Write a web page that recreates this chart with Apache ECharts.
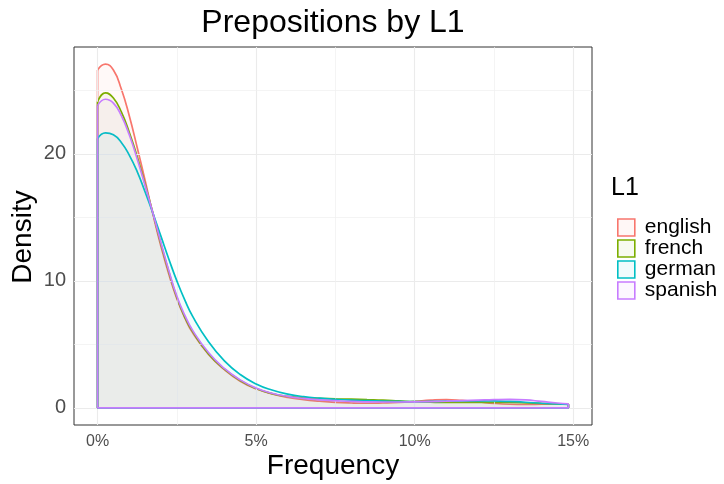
<!DOCTYPE html>
<html>
<head>
<meta charset="utf-8">
<script src="https://cdn.jsdelivr.net/npm/echarts@6/dist/echarts.min.js"></script>
<style>html,body{margin:0;padding:0;background:#fff}#c{width:724px;height:484px}</style>
</head>
<body>
<div id="c"></div>
<script>
// Frequency grid (percent) and estimated density values per L1 group
const freq = [0,0.25,0.5,0.75,1,1.25,1.5,1.75,2,2.25,2.5,2.75,3,3.5,4,4.5,5,5.5,6,6.5,7,7.5,8,8.5,9,9.5,10,10.5,11,11.5,12,12.5,13,13.5,14,14.5,14.85];
const english = [26.6,27.06,26.6,25.1,23.0,20.5,17.9,15.2,12.7,10.5,8.6,7.1,5.9,4.2,3.0,2.1,1.5,1.1,0.82,0.64,0.52,0.43,0.38,0.36,0.38,0.42,0.5,0.6,0.65,0.58,0.47,0.35,0.28,0.26,0.28,0.3,0.3];
const french  = [24.1,24.8,24.4,23.3,21.7,19.8,17.6,15.3,12.9,10.7,8.7,7.15,6.0,4.25,3.05,2.15,1.52,1.12,0.9,0.8,0.74,0.71,0.68,0.64,0.6,0.54,0.48,0.44,0.42,0.42,0.43,0.43,0.42,0.39,0.35,0.31,0.28];
const german  = [21.2,21.65,21.5,20.9,19.9,18.6,17.0,15.3,13.5,11.7,10.0,8.5,7.2,5.2,3.7,2.62,1.88,1.4,1.08,0.88,0.76,0.67,0.6,0.56,0.53,0.5,0.48,0.5,0.52,0.54,0.55,0.54,0.5,0.44,0.36,0.3,0.26];
const spanish = [23.8,24.3,24.0,23.0,21.5,19.6,17.5,15.3,13.0,10.8,8.8,7.3,6.1,4.35,3.1,2.2,1.56,1.15,0.9,0.74,0.63,0.56,0.5,0.47,0.46,0.46,0.47,0.49,0.52,0.56,0.6,0.64,0.66,0.62,0.5,0.38,0.31];

const groups = ['english','french','german','spanish'];
const values = {english, french, german, spanish};
const colors = {english:'#F8766D', french:'#7CAE00', german:'#00BFC4', spanish:'#C77CFF'};
const xTicks = [0,5,10,15];
const xTickLabels = ['0%','5%','10%','15%'];
const yTicks = [0,10,20];
const xMinorGrid = [2.5,7.5,12.5];
const yMinorGrid = [5,15,25];

function rgba(hex, a){
  const n = parseInt(hex.slice(1),16);
  return `rgba(${(n>>16)&255},${(n>>8)&255},${n&255},${a})`;
}
const FONT = '"Liberation Sans", Arial, Helvetica, sans-serif';

const series = [];
// grid lines drawn as markLines on a dummy series
series.push({
  type:'line', data:[[0,0]], symbol:'none', lineStyle:{opacity:0}, silent:true, z:1,
  markLine:{
    symbol:'none', silent:true, label:{show:false}, animation:false,
    data: [
      ...xTicks.map(v=>({xAxis:v, lineStyle:{color:'#EBEBEB', width:1.1, type:'solid'}})),
      ...yTicks.map(v=>({yAxis:v, lineStyle:{color:'#EBEBEB', width:1.1, type:'solid'}})),
      ...xMinorGrid.map(v=>({xAxis:v, lineStyle:{color:'#EFEFEF', width:0.7, type:'solid'}})),
      ...yMinorGrid.map(v=>({yAxis:v, lineStyle:{color:'#EFEFEF', width:0.7, type:'solid'}}))
    ]
  }
});
groups.forEach((g, gi) => {
  const vals = values[g];
  const last = freq.length - 1;
  series.push({
    name: g, type:'line', smooth:0.5, symbol:'none', z: 2+gi*2,
    data: freq.map((x,i)=>[x, vals[i]]),
    lineStyle:{color:colors[g], width:1.7},
    itemStyle:{color:colors[g]},
    areaStyle:{color:rgba(colors[g],0.065), origin:0}
  });
  series.push({
    name: g, type:'line', smooth:false, symbol:'none', z: 3+gi*2,
    data: [[freq[0], vals[0]],[freq[0],0],[freq[last],0],[freq[last], vals[last]]],
    lineStyle:{color:colors[g], width:1.7},
    itemStyle:{color:colors[g]}
  });
});

const chart = echarts.init(document.getElementById('c'));
chart.setOption({
  animation:false,
  backgroundColor:'#fff',
  grid:{left:74, right:132, top:47, bottom:59, show:true, borderColor:'#333333', borderWidth:1, backgroundColor:'transparent', containLabel:false},
  xAxis:{
    type:'value', min:-0.7425, max:15.5925,
    axisLine:{show:false},
    splitLine:{show:false},
    axisTick:{show:true, customValues:xTicks, length:4, lineStyle:{color:'#333333', width:1}},
    axisLabel:{customValues:xTicks, margin:9, fontSize:16, color:'#4D4D4D', fontFamily:FONT,
      formatter:(v)=>xTickLabels[xTicks.indexOf(v)] ?? (v+'%')}
  },
  yAxis:{
    type:'value', min:-1.353, max:28.413,
    axisLine:{show:false},
    splitLine:{show:false},
    axisTick:{show:true, customValues:yTicks, length:4, lineStyle:{color:'#333333', width:1}},
    axisLabel:{customValues:yTicks, margin:8, fontSize:20, color:'#4D4D4D', fontFamily:FONT}
  },
  legend:{
    orient:'vertical', left:612, top:212, itemWidth:17, itemHeight:17, itemGap:0,
    icon:'rect', selectedMode:false,
    textStyle:{fontSize:21, color:'#000', fontFamily:FONT, lineHeight:20.5, padding:[0,0,0,5]},
    data: groups.map(g=>({name:g, icon:'rect', itemStyle:{color:rgba(colors[g],0.06), borderColor:colors[g], borderWidth:1.6}}))
  },
  graphic:[
    {type:'text', x:333, y:23, style:{text:'Prepositions by L1', font:'32px '+FONT, fill:'#000', align:'center', verticalAlign:'middle', textAlign:'center', textVerticalAlign:'middle'}},
    {type:'text', x:333, y:466, style:{text:'Frequency', font:'28px '+FONT, fill:'#000', align:'center', verticalAlign:'middle', textAlign:'center', textVerticalAlign:'middle'}},
    {type:'text', x:23, y:237, rotation:Math.PI/2, style:{text:'Density', font:'28px '+FONT, fill:'#000', align:'center', verticalAlign:'middle', textAlign:'center', textVerticalAlign:'middle'}},
    {type:'text', x:611, y:188, style:{text:'L1', font:'25px '+FONT, fill:'#000', align:'left', verticalAlign:'middle', textAlign:'left', textVerticalAlign:'middle'}}
  ],
  series
});
</script>
</body>
</html>
